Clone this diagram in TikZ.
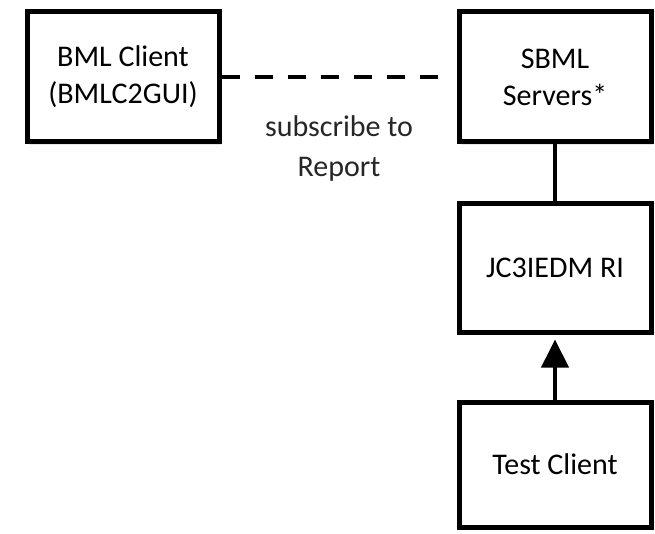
\documentclass[tikz,border=0pt]{standalone}
\usepackage{fontspec}
\setmainfont{Carlito}
\usetikzlibrary{arrows.meta,positioning,shadows}

\begin{document}
\begin{tikzpicture}[x=1pt,y=-1pt]
\tikzstyle{block} = [draw,line width=5pt,fill=white,align=center,inner sep=0pt,minimum width=192pt,minimum height=130pt,font=\fontsize{30}{37}\selectfont,drop shadow={opacity=.2,shadow xshift=2pt,shadow yshift=-3pt}]
\tikzstyle{link} = [line width=4pt]
\tikzstyle{elabel} = [font=\fontsize{30}{40}\selectfont,align=center,text=black!85]

\useasboundingbox (0,0) rectangle (655,534);

\node[block] (sbml) at (555,77) {SBML\\Servers*};
\node[block,left=235pt of sbml] (bml) {BML Client\\(BMLC2GUI)};
\node[block,below=57pt of sbml,minimum height=128pt] (jc3) {JC3IEDM RI};
\node[block,below=65pt of jc3,minimum height=125pt] (test) {Test Client};

\draw[link,dash pattern=on 18pt off 15pt,shorten >=17pt] (bml) -- (sbml)
    node[elabel,midway,yshift=-72pt] (sub) {subscribe to\\Report};
\draw[link] (sbml) -- (jc3);
\draw[link,-{Triangle[width=27pt,length=28pt]},shorten >=5pt] (test) -- (jc3);
\end{tikzpicture}
\end{document}
